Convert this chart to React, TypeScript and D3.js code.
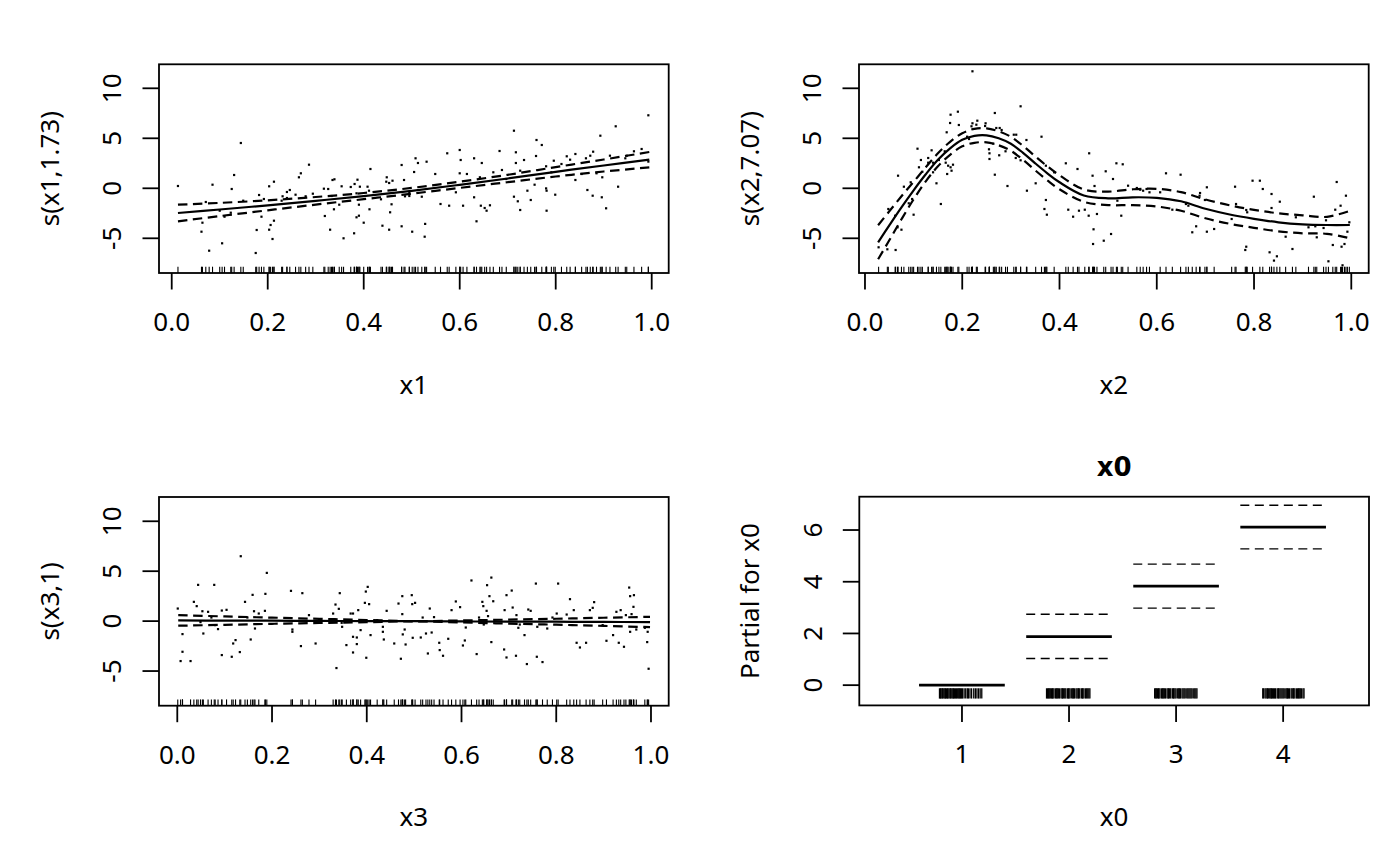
import * as d3 from "d3"

type Pt = [number, number]

// partial residuals (x, residual)
const x1Resid: Pt[] = [
  [0.013, 0.23], [0.144, 4.53], [0.078, -6.24], [0.085, 0.36], [0.062, -4.34], [0.064, -3.44], [0.071, -1.37],
  [0.105, -5.5], [0.125, -0.07], [0.13, 1.33], [0.1, -2.24], [0.11, -2.84], [0.123, -2.44], [0.149, -1.24],
  [0.175, -6.47], [0.177, -4.17], [0.182, -0.67], [0.187, -2.84], [0.192, -1.07], [0.203, -4.14], [0.206, -3.67],
  [0.213, -3.24], [0.21, -5.07], [0.213, 0.66], [0.203, 0.2], [0.229, -1.24], [0.231, -0.8], [0.24, -0.37],
  [0.246, -0.17], [0.24, -0.97], [0.258, -0.64], [0.265, 1.1], [0.269, 1.5], [0.286, 2.36], [0.279, -0.8],
  [0.294, -0.54], [0.317, -0.04], [0.326, -0.07], [0.319, -2.77], [0.33, -4.14], [0.335, 0.83], [0.339, 0.9],
  [0.333, -0.77], [0.338, -2.1], [0.349, -1.64], [0.354, 0.2], [0.358, -5.0], [0.373, 0.13], [0.381, 0.43],
  [0.387, 0.86], [0.385, -0.5], [0.39, -1.64], [0.392, 0.16], [0.385, -2.9], [0.39, -2.74], [0.38, -4.5],
  [0.4, -3.44], [0.408, 0.16], [0.411, -0.24], [0.412, -2.1], [0.414, 1.93], [0.436, -1.1], [0.439, -3.74],
  [0.448, 1.1], [0.453, 0.53], [0.447, 0.66], [0.455, -2.4], [0.453, -4.14], [0.458, -1.6], [0.46, 0.76],
  [0.479, -3.8], [0.479, 2.33], [0.484, 0.83], [0.486, -0.8], [0.495, -0.77], [0.501, -4.34], [0.505, 1.63],
  [0.508, 3.0], [0.513, 2.53], [0.495, -0.44], [0.531, 2.66], [0.528, -3.56], [0.527, -4.84], [0.521, -0.84],
  [0.549, 1.43], [0.56, -1.57], [0.574, 3.5], [0.578, -1.74], [0.592, -0.4], [0.6, 3.83], [0.602, 2.83],
  [0.6, 1.5], [0.607, -1.74], [0.615, 1.43], [0.63, 3.0], [0.635, -3.3], [0.63, -0.9], [0.644, -1.74],
  [0.646, 2.53], [0.642, 1.1], [0.652, -1.97], [0.656, -2.24], [0.663, -1.7], [0.67, 1.6], [0.683, 3.73],
  [0.688, 1.83], [0.697, 0.93], [0.713, 5.76], [0.713, -0.84], [0.717, 3.6], [0.717, 2.53], [0.721, -1.3],
  [0.726, 1.76], [0.726, -2.17], [0.734, 2.83], [0.741, -0.24], [0.748, -1.17], [0.756, 0.36], [0.759, 3.23],
  [0.76, 4.83], [0.771, 4.33], [0.78, 2.2], [0.78, -0.01], [0.781, -0.24], [0.781, -2.24], [0.791, 1.6],
  [0.796, 2.76], [0.799, -0.64], [0.812, 2.43], [0.823, 3.2], [0.83, 2.86], [0.841, 3.43], [0.841, 0.83],
  [0.854, 1.43], [0.863, 3.0], [0.866, -0.17], [0.872, 3.26], [0.877, -0.74], [0.878, 3.66], [0.885, 1.5],
  [0.893, 5.26], [0.896, -0.9], [0.897, 1.1], [0.905, -2.0], [0.913, 3.26], [0.925, 6.2], [0.93, 0.16],
  [0.945, 3.0], [0.948, 3.26], [0.963, 3.7], [0.979, 3.93], [0.993, 7.3], [0.993, 2.67],
]
const x1Grid = [0.013, 0.1, 0.2, 0.3, 0.4, 0.5, 0.6, 0.7, 0.8, 0.9, 0.995]
const x1Fit = [-2.47, -2.12, -1.7, -1.25, -0.78, -0.25, 0.35, 0.98, 1.65, 2.28, 2.86]
const x1Upper = [-1.64, -1.46, -1.2, -0.87, -0.47, 0.04, 0.66, 1.35, 2.12, 2.88, 3.63]
const x1Lower = [-3.3, -2.78, -2.2, -1.63, -1.09, -0.54, 0.04, 0.61, 1.18, 1.68, 2.09]

const x2Resid: Pt[] = [
  [0.221, 11.7], [0.191, 7.66], [0.176, 7.36], [0.193, 6.33], [0.175, 6.53], [0.168, 5.6], [0.267, 7.53],
  [0.32, 8.2], [0.231, 6.76], [0.219, 6.2], [0.221, 6.5], [0.229, 6.36], [0.248, 6.5], [0.247, 6.23],
  [0.277, 6.03], [0.281, 5.83], [0.27, 6.03], [0.306, 5.36], [0.311, 5.36], [0.332, 4.83], [0.363, 5.16],
  [0.21, 5.16], [0.214, 4.93], [0.255, 3.9], [0.264, 4.46], [0.276, 3.3], [0.289, 3.7], [0.31, 3.03],
  [0.32, 2.8], [0.267, 1.36], [0.293, 0.23], [0.333, -0.24], [0.351, 0.5], [0.372, 2.26], [0.389, 1.6],
  [0.413, 2.5], [0.437, 1.93], [0.461, 3.5], [0.468, 1.26], [0.472, 0.23], [0.495, 1.7], [0.51, 0.93],
  [0.517, 2.5], [0.372, -1.17], [0.374, -2.64], [0.369, -2.07], [0.418, -2.14], [0.428, -2.84], [0.44, -2.24],
  [0.452, -2.14], [0.46, -2.74], [0.477, -2.57], [0.47, -4.1], [0.469, -5.57], [0.491, -5.24], [0.506, -4.57],
  [0.519, -1.24], [0.156, -1.57], [0.1, -2.64], [0.075, -4.14], [0.067, -3.9], [0.063, -6.17], [0.046, -6.1],
  [0.028, -5.9], [0.048, -2.07], [0.062, -2.74], [0.068, 1.26], [0.08, 0.16], [0.094, 0.6], [0.09, -1.5],
  [0.097, -1.07], [0.108, 3.96], [0.111, 2.1], [0.118, 1.66], [0.115, 2.83], [0.137, 3.8], [0.13, 3.03],
  [0.13, 2.56], [0.14, 2.56], [0.14, 1.6], [0.147, 0.5], [0.152, 2.83], [0.164, 3.7], [0.166, 2.56],
  [0.169, 1.43], [0.171, 2.26], [0.178, 1.76], [0.181, 2.36], [0.176, 2.1], [0.256, 3.5], [0.256, 2.93],
  [0.53, 2.4], [0.527, -2.74], [0.541, 0.26], [0.559, 0.03], [0.566, -0.14], [0.572, -0.24], [0.579, -0.07],
  [0.585, -0.4], [0.607, -0.4], [0.619, 1.5], [0.649, 1.36], [0.632, -2.14], [0.66, -1.57], [0.665, -1.74],
  [0.689, -0.47], [0.688, -0.74], [0.703, 0.1], [0.699, -1.17], [0.681, -3.8], [0.673, -4.4], [0.703, -4.34],
  [0.718, -4.07], [0.754, -3.07], [0.761, 0.16], [0.763, -1.57], [0.784, -2.17], [0.786, -2.4], [0.797, 0.76],
  [0.812, 0.76], [0.818, -0.07], [0.836, -0.57], [0.836, -1.97], [0.853, -1.34], [0.784, -5.84], [0.782, -6.17],
  [0.832, -6.4], [0.847, -6.8], [0.841, -7.23], [0.865, -4.84], [0.879, -6.07], [0.886, -2.9], [0.912, -3.9],
  [0.923, -0.84], [0.929, -4.9], [0.926, -3.8], [0.943, -3.97], [0.948, -3.2], [0.953, -7.3], [0.962, -5.67],
  [0.967, -2.14], [0.97, 0.63], [0.978, -1.74], [0.98, -5.84], [0.982, -7.7], [0.989, -0.74], [0.992, -4.34],
  [0.996, -3.4], [0.986, -5.57],
]
const x2Grid = [
  0.027, 0.05, 0.075, 0.1, 0.125, 0.15, 0.175, 0.2, 0.225, 0.25, 0.275, 0.3, 0.325, 0.35, 0.375, 0.4,
  0.45, 0.5, 0.55, 0.6, 0.65, 0.7, 0.75, 0.8, 0.85, 0.9, 0.95, 0.997,
]
const x2Fit = [
  -5.4, -3.7, -1.9, -0.2, 1.4, 2.85, 4.0, 4.85, 5.25, 5.3, 5.0, 4.45, 3.55, 2.5, 1.5, 0.6,
  -0.72, -1.0, -0.9, -0.95, -1.3, -2.05, -2.62, -3.05, -3.4, -3.6, -3.67, -3.67,
]
const x2Upper = [
  -3.7, -2.3, -0.8, 0.65, 2.1, 3.5, 4.65, 5.5, 5.95, 6.0, 5.7, 5.15, 4.25, 3.2, 2.2, 1.3,
  -0.12, -0.33, -0.1, -0.05, -0.38, -1.12, -1.7, -2.15, -2.5, -2.7, -2.85, -2.25,
]
const x2Lower = [
  -7.1, -5.2, -3.1, -1.1, 0.7, 2.2, 3.35, 4.2, 4.55, 4.6, 4.3, 3.75, 2.85, 1.8, 0.8, -0.1,
  -1.35, -1.68, -1.68, -1.82, -2.25, -3.0, -3.55, -3.95, -4.3, -4.5, -4.55, -5.0,
]

const x3Resid: Pt[] = [
  [0.001, 1.26], [0.007, -4.0], [0.011, -1.3], [0.011, -3.07], [0.028, -4.0], [0.035, 1.93], [0.041, 1.5],
  [0.044, 3.63], [0.049, -0.1], [0.053, 0.99], [0.055, -1.24], [0.065, 0.93], [0.072, 0.36], [0.078, 3.63],
  [0.08, -0.4], [0.086, -0.8], [0.094, 1.06], [0.104, 1.13], [0.094, -3.4], [0.115, -3.57], [0.118, -2.24],
  [0.123, -1.9], [0.132, -3.1], [0.134, 6.5], [0.143, 1.93], [0.148, 0.36], [0.155, -1.84], [0.159, 2.63],
  [0.162, 0.99], [0.164, -0.74], [0.172, 0.76], [0.185, 1.03], [0.186, 2.73], [0.189, 4.83], [0.24, 3.03],
  [0.243, -0.84], [0.243, -1.07], [0.261, -2.5], [0.264, 2.8], [0.278, 0.6], [0.292, -2.24], [0.334, 1.66],
  [0.336, -4.7], [0.341, 1.23], [0.343, 2.8], [0.329, 0.76], [0.347, -0.17], [0.348, -0.57], [0.357, -2.4],
  [0.366, 0.76], [0.371, 0.76], [0.371, -1.57], [0.371, -3.14], [0.379, -1.64], [0.379, -2.3], [0.382, 1.1],
  [0.387, -0.9], [0.396, 1.83], [0.398, 2.96], [0.402, 3.43], [0.405, 1.7], [0.399, -3.67], [0.408, -1.4],
  [0.422, 0.1], [0.434, -0.57], [0.436, -1.84], [0.442, 1.03], [0.434, -1.07], [0.458, -2.24], [0.467, 1.76],
  [0.475, 2.5], [0.475, 0.7], [0.476, -1.33], [0.48, -0.84], [0.482, -2.34], [0.472, -3.77], [0.495, 2.6],
  [0.496, 1.7], [0.497, -1.67], [0.502, 1.83], [0.514, -1.64], [0.525, -1.24], [0.529, -3.24], [0.533, 1.26],
  [0.537, -1.14], [0.518, 0.36], [0.542, 0.4], [0.553, -2.17], [0.554, -2.9], [0.561, -3.47], [0.572, -1.77],
  [0.579, 1.1], [0.588, 1.97], [0.597, 1.4], [0.603, -2.44], [0.607, -1.94], [0.609, -0.64], [0.621, 4.07],
  [0.632, -3.3], [0.637, 0.36], [0.644, 1.93], [0.646, 1.5], [0.647, -0.34], [0.653, 1.03], [0.656, 0.5],
  [0.654, 3.6], [0.659, 2.5], [0.663, 4.36], [0.663, -2.1], [0.667, 1.99], [0.69, -2.84], [0.691, 1.1],
  [0.695, -3.64], [0.695, 2.6], [0.706, 3.06], [0.708, 1.36], [0.715, -3.47], [0.716, 0.6], [0.72, -0.67],
  [0.723, -0.34], [0.733, -1.4], [0.738, -4.3], [0.741, 1.16], [0.746, 1.03], [0.757, 3.76], [0.759, -3.57],
  [0.76, -0.57], [0.771, -4.1], [0.781, -0.74], [0.792, 0.36], [0.801, 0.76], [0.804, 3.76], [0.822, 0.66],
  [0.829, 2.2], [0.837, 1.1], [0.843, -2.17], [0.85, -2.64], [0.863, -2.17], [0.871, 1.1], [0.877, 1.33],
  [0.88, 1.9], [0.898, -0.4], [0.906, -1.97], [0.92, -1.4], [0.927, 0.93], [0.932, -2.17], [0.936, 1.1],
  [0.943, -2.57], [0.947, 0.6], [0.954, 3.36], [0.956, 2.5], [0.956, -1.07], [0.959, 0.7], [0.963, 1.43],
  [0.964, 2.6], [0.969, -0.84], [0.987, -0.67], [0.992, -2.1], [0.995, -4.77], [0.993, -1.07],
]
const x3Grid = [0.002, 0.1, 0.2, 0.3, 0.4, 0.5, 0.6, 0.7, 0.8, 0.9, 0.998]
const x3Fit = [0.07, 0.05, 0.04, 0.02, 0.0, -0.01, -0.03, -0.05, -0.06, -0.08, -0.1]
const x3Upper = [0.6, 0.47, 0.35, 0.23, 0.11, 0.0, 0.07, 0.15, 0.24, 0.34, 0.43]
const x3Lower = [-0.46, -0.37, -0.27, -0.19, -0.11, -0.02, -0.13, -0.25, -0.36, -0.48, -0.6]

// parametric factor term x0
const x0Levels = [1, 2, 3, 4]
const x0Fit = [0, 1.88, 3.83, 6.11]
const x0Upper = [0, 2.74, 4.68, 6.96]
const x0Lower = [0, 1.03, 2.98, 5.27]
const x0Rug = [
  0.79, 0.8, 0.805, 0.815, 0.82, 0.83, 0.84, 0.845, 0.855, 0.865, 0.87, 0.88, 0.89, 0.895, 0.905, 0.915,
  0.92, 0.93, 0.94, 0.95, 0.96, 0.97, 0.975, 0.985, 0.995, 1.005, 1.02, 1.035, 1.05, 1.06, 1.075, 1.09,
  1.11, 1.125, 1.14, 1.155, 1.17, 1.185,
  1.79, 1.8, 1.81, 1.815, 1.825, 1.835, 1.845, 1.85, 1.86, 1.875, 1.885, 1.89, 1.9, 1.91, 1.925, 1.935,
  1.94, 1.95, 1.96, 1.97, 1.985, 1.995, 2.0, 2.01, 2.025, 2.035, 2.04, 2.05, 2.065, 2.075, 2.085, 2.09,
  2.1, 2.115, 2.125, 2.13, 2.14, 2.155, 2.165, 2.175, 2.185, 2.195,
  2.8, 2.81, 2.815, 2.825, 2.835, 2.84, 2.85, 2.865, 2.875, 2.88, 2.89, 2.9, 2.915, 2.925, 2.93, 2.94,
  2.95, 2.965, 2.975, 2.98, 2.99, 3.0, 3.015, 3.025, 3.03, 3.04, 3.055, 3.065, 3.075, 3.085, 3.1, 3.11,
  3.12, 3.13, 3.14, 3.15, 3.165, 3.175, 3.185, 3.195,
  3.81, 3.815, 3.83, 3.84, 3.85, 3.855, 3.865, 3.875, 3.885, 3.89, 3.9, 3.91, 3.92, 3.93, 3.945, 3.955,
  3.96, 3.97, 3.98, 3.99, 4.0, 4.01, 4.025, 4.035, 4.04, 4.05, 4.06, 4.075, 4.085, 4.095, 4.1, 4.11,
  4.125, 4.135, 4.145, 4.15, 4.16, 4.17, 4.185, 4.195,
]

const unitTicks = [0, 0.2, 0.4, 0.6, 0.8, 1.0]
const smoothYTicks = [-5, 0, 5, 10]
const x0YTicks = [0, 2, 4, 6]

// plot region of every panel, relative to its figure cell
const BOX_LEFT = 159
const BOX_TOP = 64.3
const BOX_W = 509.7
const BOX_H = 208.7
const FONT = "'Noto Sans', 'Open Sans', sans-serif"
const FS = 26

type FrameProps = {
  ox: number
  oy: number
  xlim: [number, number]
  ylim: [number, number]
  xTicks: number[]
  xFmt: (v: number) => string
  yTicks: number[]
  xlab: string
  ylab: string
  main?: string
  children: (x: d3.ScaleLinear<number, number>, y: d3.ScaleLinear<number, number>) => any
}

function Frame({ ox, oy, xlim, ylim, xTicks, xFmt, yTicks, xlab, ylab, main, children }: FrameProps) {
  const L = ox + BOX_LEFT
  const T = oy + BOX_TOP
  const B = T + BOX_H
  const x = d3.scaleLinear().domain(xlim).range([L, L + BOX_W])
  const y = d3.scaleLinear().domain(ylim).range([B, T])
  const cx = L + BOX_W / 2
  const cy = T + BOX_H / 2

  return (
    <g>
      {children(x, y)}
      <rect x={L} y={T} width={BOX_W} height={BOX_H} fill="none" stroke="#000" strokeWidth={1.8} />
      {xTicks.map((t) => (
        <g key={"x" + t}>
          <line x1={x(t)} x2={x(t)} y1={B} y2={B + 16.5} stroke="#000" strokeWidth={1.8} />
          <text x={x(t)} y={B + 58} textAnchor="middle" fontSize={FS}>
            {xFmt(t)}
          </text>
        </g>
      ))}
      {yTicks.map((t) => (
        <g key={"y" + t}>
          <line x1={L} x2={L - 16.5} y1={y(t)} y2={y(t)} stroke="#000" strokeWidth={1.8} />
          <text transform={`translate(${L - 37.6},${y(t)}) rotate(-90)`} textAnchor="middle" fontSize={FS}>
            {String(t)}
          </text>
        </g>
      ))}
      <text x={cx} y={B + 120.7} textAnchor="middle" fontSize={FS}>
        {xlab}
      </text>
      <text transform={`translate(${L - 100.3},${cy}) rotate(-90)`} textAnchor="middle" fontSize={FS}>
        {ylab}
      </text>
      {main && (
        <text x={cx} y={T - 20.7} textAnchor="middle" fontSize={26} fontWeight="bold" fontFamily="'DejaVu Sans', sans-serif">
          {main}
        </text>
      )}
    </g>
  )
}

function SmoothMarks({ x, y, resid, grid, fit, upper, lower }: any) {
  const line = (vals: number[]) =>
    d3
      .line<number>()
      .curve(d3.curveCatmullRom)
      .x((_, i) => x(grid[i]))
      .y((v) => y(v))(vals) || ""
  const bottom = y.range()[0]
  return (
    <g>
      {resid.map((p: Pt, i: number) => (
        <line key={"r" + i} x1={x(p[0])} x2={x(p[0])} y1={bottom} y2={bottom - 6.3} stroke="#000" strokeWidth={1.1} />
      ))}
      {resid.map((p: Pt, i: number) => (
        <rect key={"p" + i} x={x(p[0]) - 1.1} y={y(p[1]) - 1.1} width={2.2} height={2.2} fill="#000" />
      ))}
      <path d={line(fit)} fill="none" stroke="#000" strokeWidth={2.2} />
      <path d={line(upper)} fill="none" stroke="#000" strokeWidth={2.2} strokeDasharray="9.5 5.5" />
      <path d={line(lower)} fill="none" stroke="#000" strokeWidth={2.2} strokeDasharray="9.5 5.5" />
    </g>
  )
}

function FactorMarks({ x, y }: any) {
  return (
    <g>
      {x0Rug.map((v, i) => (
        <line key={"r" + i} x1={x(v)} x2={x(v)} y1={y(-0.52)} y2={y(-0.12)} stroke="#000" strokeWidth={1.3} />
      ))}
      {x0Levels.map((lv, i) => (
        <g key={lv}>
          <line x1={x(lv - 0.4)} x2={x(lv + 0.4)} y1={y(x0Upper[i])} y2={y(x0Upper[i])} stroke="#000" strokeWidth={1.4} strokeDasharray="9 5.5" />
          <line x1={x(lv - 0.4)} x2={x(lv + 0.4)} y1={y(x0Lower[i])} y2={y(x0Lower[i])} stroke="#000" strokeWidth={1.4} strokeDasharray="9 5.5" />
          <line x1={x(lv - 0.4)} x2={x(lv + 0.4)} y1={y(x0Fit[i])} y2={y(x0Fit[i])} stroke="#000" strokeWidth={2.7} />
        </g>
      ))}
    </g>
  )
}

const fmt1 = d3.format(".1f")

export default function App() {
  return (
    <div style={{ position: "absolute", left: 0, top: 0 }}>
      <svg width={1400} height={866} fontFamily={FONT} style={{ display: "block", background: "#fff" }}>
        <Frame ox={0} oy={0} xlim={[-0.0265, 1.0354]} ylim={[-8.47, 12.4]} xTicks={unitTicks} xFmt={fmt1} yTicks={smoothYTicks} xlab="x1" ylab="s(x1,1.73)">
          {(x, y) => <SmoothMarks x={x} y={y} resid={x1Resid} grid={x1Grid} fit={x1Fit} upper={x1Upper} lower={x1Lower} />}
        </Frame>
        <Frame ox={700} oy={0} xlim={[-0.0123, 1.0358]} ylim={[-8.47, 12.4]} xTicks={unitTicks} xFmt={fmt1} yTicks={smoothYTicks} xlab="x2" ylab="s(x2,7.07)">
          {(x, y) => <SmoothMarks x={x} y={y} resid={x2Resid} grid={x2Grid} fit={x2Fit} upper={x2Upper} lower={x2Lower} />}
        </Frame>
        <Frame ox={0} oy={432.7} xlim={[-0.0386, 1.0374]} ylim={[-8.47, 12.43]} xTicks={unitTicks} xFmt={fmt1} yTicks={smoothYTicks} xlab="x3" ylab="s(x3,1)">
          {(x, y) => <SmoothMarks x={x} y={y} resid={x3Resid} grid={x3Grid} fit={x3Fit} upper={x3Upper} lower={x3Lower} />}
        </Frame>
        <Frame ox={700.3} oy={432.4} xlim={[0.041, 4.802]} ylim={[-0.783, 7.289]} xTicks={x0Levels} xFmt={(v) => String(v)} yTicks={x0YTicks} xlab="x0" ylab="Partial for x0" main="x0">
          {(x, y) => <FactorMarks x={x} y={y} />}
        </Frame>
      </svg>
    </div>
  )
}
